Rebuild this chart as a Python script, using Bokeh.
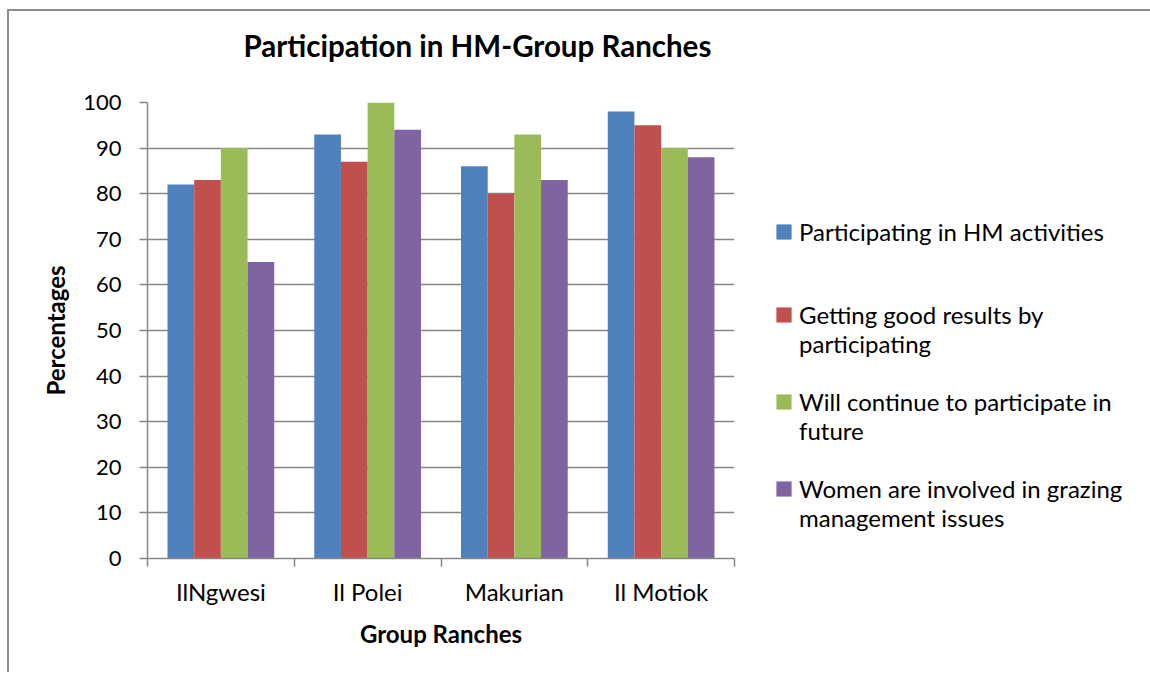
from bokeh.plotting import figure
from bokeh.models import FixedTicker, Legend, LegendItem, Range1d, Title
from bokeh.embed import file_html
from bokeh.resources import INLINE

categories = ["IlNgwesi", "Il Polei", "Makurian", "Il Motiok"]
series_names = [
    "Participating in HM activities",
    "Getting good results by\nparticipating",
    "Will continue to participate in\nfuture",
    "Women are involved in grazing\nmanagement issues",
]
participating = [82, 93, 86, 98]
good_results = [83, 87, 80, 95]
will_continue = [90, 100, 93, 90]
women_involved = [65, 94, 83, 88]
y_ticks = [0, 10, 20, 30, 40, 50, 60, 70, 80, 90, 100]
chart_title = "Participation in HM-Group Ranches"

series_values = [participating, good_results, will_continue, women_involved]
colors = ["#4F81BD", "#C0504D", "#9BBB59", "#8064A2"]

FONT = "Lato"
GRID = "#868686"

p = figure(
    frame_width=587, frame_height=456,
    min_border_left=138, min_border_top=91, min_border_bottom=114, min_border_right=40,
    x_range=Range1d(0, len(categories)), y_range=Range1d(0, 100),
    output_backend="svg", toolbar_location=None, title=None,
)
p.styles = {"margin-left": "7px", "margin-top": "9px",
            "border-top": "2px solid #8c8c8c", "border-left": "2px solid #8c8c8c"}
p.outline_line_color = None
p.background_fill_color = "white"
p.border_fill_color = "white"

n = len(series_values)
bar_w = 1.0 / (n + 1.5)
centers = [i + 0.5 for i in range(len(categories))]

renderers = []
for k, (vals, col) in enumerate(zip(series_values, colors)):
    xs = [c + (k - (n - 1) / 2) * bar_w for c in centers]
    r = p.vbar(x=xs, top=vals, bottom=0, width=bar_w, fill_color=col, line_color=None)
    renderers.append(r)

# title (trailing blank line lifts the visible line inside the title panel)
t = Title(text=chart_title + "\n", text_font=FONT, text_font_size="29.5px",
          text_font_style="bold", text_color="black", align="left", offset=96, standoff=10)
p.add_layout(t, "above")

# x axis
xa = p.xaxis[0]
xa.ticker = FixedTicker(ticks=centers, minor_ticks=list(range(len(categories) + 1)))
xa.major_label_overrides = {c: name for c, name in zip(centers, categories)}
xa.major_tick_out = 0
xa.major_tick_in = 0
xa.minor_tick_out = 8
xa.minor_tick_in = 0
xa.minor_tick_line_color = GRID
xa.axis_line_color = GRID
xa.axis_line_width = 1.5
xa.minor_tick_line_width = 1.5
xa.major_label_text_font = FONT
xa.major_label_text_font_size = "24px"
xa.major_label_text_color = "black"
xa.major_label_standoff = 10
xa.axis_label = "Group Ranches"
xa.axis_label_text_font = FONT
xa.axis_label_text_font_size = "24px"
xa.axis_label_text_font_style = "bold"
xa.axis_label_text_color = "black"
xa.axis_label_standoff = 10

ya = p.yaxis[0]
ya.ticker = FixedTicker(ticks=y_ticks, minor_ticks=[])
ya.major_tick_out = 8
ya.major_tick_in = 0
ya.minor_tick_out = 0
ya.minor_tick_in = 0
ya.major_tick_line_color = GRID
ya.major_tick_line_width = 1.5
ya.axis_line_color = GRID
ya.axis_line_width = 1.5
ya.major_label_text_font = FONT
ya.major_label_text_font_size = "22px"
ya.major_label_text_color = "black"
ya.major_label_standoff = 18
ya.axis_label = "Percentages"
ya.axis_label_text_font = FONT
ya.axis_label_text_font_size = "24px"
ya.axis_label_text_font_style = "bold"
ya.axis_label_text_color = "black"
ya.axis_label_standoff = 10

p.xgrid.grid_line_color = None
p.ygrid.ticker = FixedTicker(ticks=y_ticks[1:])
p.ygrid.grid_line_color = GRID
p.ygrid.grid_line_width = 1.5

# legend: wrapped entries get a leading blank line so the swatch lines up with their first line
labels = [("\n" + nm) if "\n" in nm else nm for nm in series_names]
legend = Legend(items=[LegendItem(label=lb, renderers=[r]) for lb, r in zip(labels, renderers)],
                location=(40, 26), glyph_width=19, glyph_height=19, label_standoff=6,
                label_height=80, spacing=0, padding=0, margin=0,
                border_line_color=None, background_fill_alpha=0,
                label_text_font=FONT, label_text_font_size="24px", label_text_color="black",
                label_text_line_height=1.1)
p.add_layout(legend, "right")

open("out.html", "w").write(file_html(p, INLINE))
